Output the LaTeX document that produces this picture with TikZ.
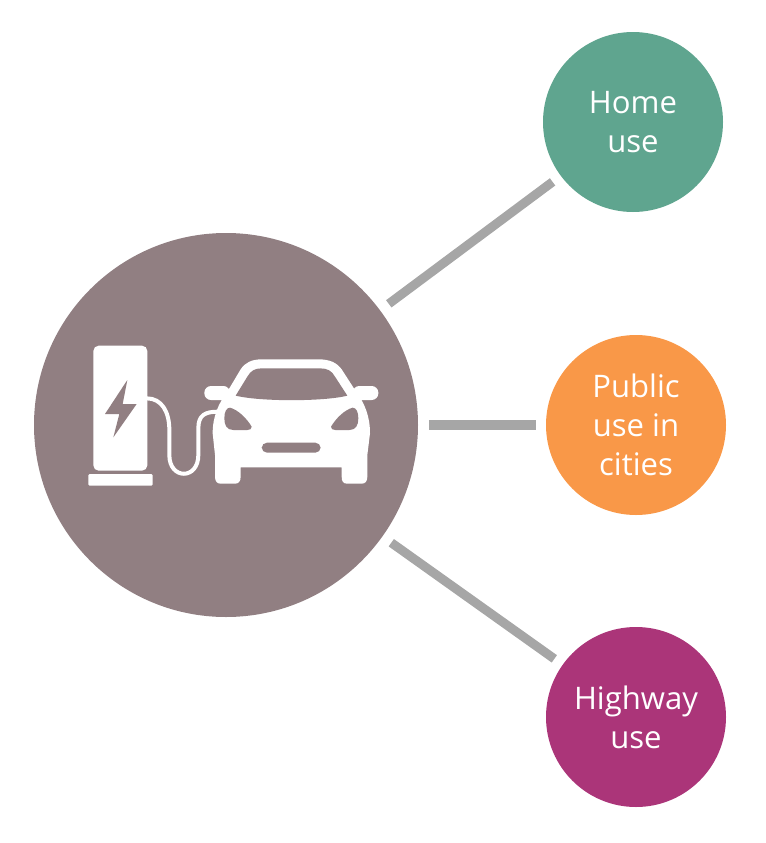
\documentclass[tikz,border=0pt]{standalone}
\usepackage{fontspec}
\setmainfont{Open Sans}
\usepackage{tikz}
\definecolor{hubcol}{HTML}{917F82}
\definecolor{homecol}{HTML}{5FA58F}
\definecolor{publiccol}{HTML}{F99848}
\definecolor{highwaycol}{HTML}{AB3579}
\definecolor{linkcol}{HTML}{A6A6A6}
\tikzset{
  usecircle/.style={circle,minimum size=135pt,inner sep=0pt,text=white,align=center,
    font=\fontsize{23.3}{29.3}\selectfont},
  link/.style={-,color=linkcol,line width=6.8pt,shorten <=8pt,shorten >=7.5pt},
  icon/.style={fill=white,draw=none},
  hole/.style={fill=hubcol,draw=none}
}
\begin{document}
\begin{tikzpicture}[x=0.75pt,y=-0.75pt]
  \useasboundingbox (0,0) rectangle (766,843);
  \draw (226,425) node[circle,minimum size=288pt,inner sep=0pt,fill=hubcol] (hub) {};
  \draw (633,122) node[usecircle,fill=homecol] (home) {Home\\use};
  \draw (636,425) node[usecircle,fill=publiccol] (public) {Public\\use in\\cities};
  \draw (636,717) node[usecircle,fill=highwaycol] (highway) {Highway\\use};

  \path[link] (hub) edge (home);
  \path[link] (hub) edge (public);
  \path[link] (hub) edge (highway);

  % charger and car, traced at three times the size
  \begin{scope}[shift={(70,330)},x=0.25pt,y=-0.25pt]
    \fill[icon,rounded corners=4pt] (70,422) -- (70,47) -- (232,47) -- (232,422) -- cycle;
    \fill[icon,rounded corners=1pt] (55,432) rectangle (248,467);
    \fill[hole] (172,150) -- (105,252) -- (148,252) -- (130,322) -- (200,222) -- (158,222) -- cycle;
    \draw[white,line width=3pt] (230,205) .. controls (275,205) and (298,245) .. (298,300)
      -- (298,375) .. controls (298,450) and (385,450) .. (385,375)
      -- (385,295) .. controls (385,255) and (405,245) .. (445,245);
    % car body
    \fill[icon,rounded corners=5pt] (403,168) rectangle (480,210);
    \fill[icon,rounded corners=5pt] (848,168) rectangle (925,210);
    \fill[icon] (475,180) -- (512,118) .. controls (525,98) and (545,88) .. (575,88)
      -- (745,88) .. controls (780,88) and (800,98) .. (815,118) -- (855,180)
      .. controls (885,220) and (900,260) .. (900,310)
      -- (892,375) -- (892,440) .. controls (892,455) and (885,461) .. (875,461)
      -- (832,461) .. controls (820,461) and (815,455) .. (815,440) -- (815,412)
      -- (512,412) -- (512,440) .. controls (512,455) and (505,461) .. (495,461)
      -- (452,461) .. controls (442,461) and (435,455) .. (435,440)
      -- (435,375) -- (428,310) .. controls (428,260) and (445,220) .. cycle;
    \fill[hole] (497,197) -- (532,140) .. controls (542,122) and (555,115) .. (575,115)
      -- (750,115) .. controls (772,115) and (785,122) .. (795,140) -- (832,197)
      .. controls (760,215) and (570,215) .. cycle;
    \fill[hole] (480,233) .. controls (505,240) and (530,265) .. (545,290)
      .. controls (545,297) and (540,300) .. (532,300) -- (490,300)
      .. controls (470,300) and (463,285) .. (463,265) .. controls (463,245) and (470,233) .. (480,233) -- cycle;
    \fill[hole] (848,233) .. controls (823,240) and (798,265) .. (783,290)
      .. controls (783,297) and (788,300) .. (796,300) -- (838,300)
      .. controls (858,300) and (865,285) .. (865,265) .. controls (865,245) and (858,233) .. (848,233) -- cycle;
    \fill[hole,rounded corners=4pt] (575,338) rectangle (752,368);
  \end{scope}
\end{tikzpicture}
\end{document}
